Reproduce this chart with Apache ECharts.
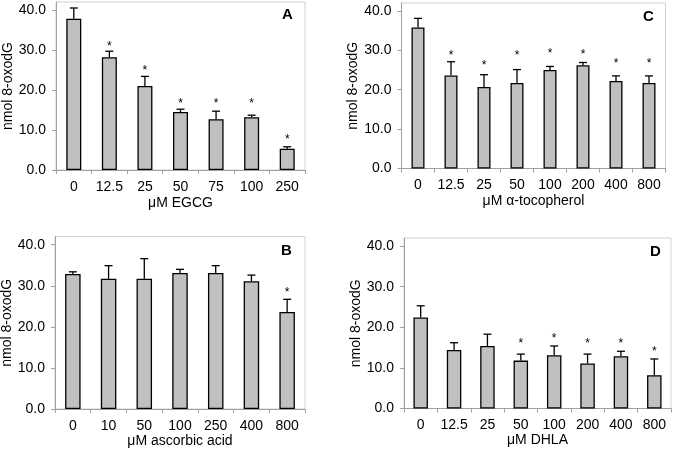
<!DOCTYPE html>
<html>
<head>
<meta charset="utf-8">
<script src="https://cdn.jsdelivr.net/npm/echarts@6/dist/echarts.min.js"></script>
<style>html,body{margin:0;padding:0;background:#fff}#c{width:675px;height:449px}</style>
</head>
<body>
<div id="c"></div>
<script>
// Panel A: EGCG
var catsA = ['0', '12.5', '25', '50', '75', '100', '250'];
var valsA = [37.8, 28.2, 21.0, 14.5, 12.7, 13.2, 5.3];
var sdA   = [2.7, 1.5, 2.4, 0.7, 2.0, 0.5, 0.5];
var sigA  = [null, 31.7, 25.7, 17.3, 17.3, 17.3, 8.4];
// Panel B: ascorbic acid
var catsB = ['0', '10', '50', '100', '250', '400', '800'];
var valsB = [32.9, 31.7, 31.7, 33.1, 33.1, 31.1, 23.6];
var sdB   = [0.5, 3.2, 4.9, 0.9, 1.8, 1.5, 3.1];
var sigB  = [null, null, null, null, null, null, 29.0];
// Panel C: alpha-tocopherol
var catsC = ['0', '12.5', '25', '50', '100', '200', '400', '800'];
var valsC = [35.8, 23.6, 20.7, 21.7, 25.0, 26.2, 22.2, 21.7];
var sdC   = [2.3, 3.5, 3.1, 3.4, 0.9, 0.7, 1.3, 1.8];
var sigC  = [null, 29.3, 26.9, 29.3, 29.9, 29.6, 27.3, 27.3];
// Panel D: DHLA
var catsD = ['0', '12.5', '25', '50', '100', '200', '400', '800'];
var valsD = [22.4, 14.4, 15.4, 11.8, 13.1, 11.1, 12.9, 8.2];
var sdD   = [2.9, 1.8, 2.9, 1.6, 2.3, 2.3, 1.2, 4.0];
var sigD  = [null, null, null, 16.8, 17.9, 16.8, 16.8, 14.8];

var yTicks = [0, 10, 20, 30, 40];
var yName = 'nmol 8-oxodG';

var FONT = "'Liberation Sans', Arial, sans-serif";
var panels = [
  {cats: catsA, vals: valsA, sd: sdA, sig: sigA, xname: '\u03bcM EGCG', letter: 'A',
   grid: {left: 56, top: 2, width: 249, height: 168}, barW: 15, letterPos: [288, 15], xGap: 26},
  {cats: catsC, vals: valsC, sd: sdC, sig: sigC, xname: '\u03bcM \u03b1-tocopherol', letter: 'C',
   grid: {left: 401.5, top: 3, width: 264, height: 165.5}, barW: 13, letterPos: [649, 17], xGap: 25.5},
  {cats: catsB, vals: valsB, sd: sdB, sig: sigB, xname: '\u03bcM ascorbic acid', letter: 'B',
   grid: {left: 55, top: 236.5, width: 250, height: 172.5}, barW: 15.5, letterPos: [287, 251], xGap: 23},
  {cats: catsD, vals: valsD, sd: sdD, sig: sigD, xname: '\u03bcM DHLA', letter: 'D',
   grid: {left: 404, top: 238, width: 267, height: 170.5}, barW: 14.5, letterPos: [656, 252], xGap: 24}
];

var grids = [], xAxes = [], yAxes = [], series = [], graphics = [];
panels.forEach(function (p, i) {
  grids.push(Object.assign({show: true, borderColor: '#d0d0d0', borderWidth: 1, backgroundColor: 'transparent',
    containLabel: false, outerBoundsMode: 'none'}, p.grid));
  xAxes.push({
    type: 'category', gridIndex: i, data: p.cats,
    name: p.xname, nameLocation: 'middle', nameGap: p.xGap,
    nameTextStyle: {fontFamily: FONT, fontSize: 14, color: '#000'},
    axisLine: {lineStyle: {color: '#a0a0a0', width: 1}},
    axisTick: {show: true, length: 4, interval: 0, lineStyle: {color: '#a0a0a0'}},
    axisLabel: {fontFamily: FONT, fontSize: 14, color: '#000', margin: 10, interval: 0},
    splitLine: {show: false}
  });
  yAxes.push({
    type: 'value', gridIndex: i, min: 0, max: 42,
    name: yName, nameLocation: 'middle', nameGap: 36,
    nameTextStyle: {fontFamily: FONT, fontSize: 14, color: '#000'},
    axisLine: {show: true, lineStyle: {color: '#a0a0a0', width: 1}},
    axisTick: {show: true, length: 4, customValues: yTicks, lineStyle: {color: '#a0a0a0'}},
    axisLabel: {fontFamily: FONT, fontSize: 14, color: '#000', margin: 10, customValues: yTicks,
      formatter: function (v) { return v.toFixed(1); }},
    splitLine: {show: false}
  });
  series.push({
    type: 'bar', xAxisIndex: i, yAxisIndex: i, data: p.vals, barWidth: p.barW,
    itemStyle: {color: '#c0c0c0', borderColor: '#000', borderWidth: 1.3},
    silent: true, animation: false
  });
  var errData = p.vals.map(function (v, k) { return [k, v, v + p.sd[k]]; });
  series.push({
    type: 'custom', xAxisIndex: i, yAxisIndex: i, data: errData, animation: false, silent: true,
    encode: {x: 0, y: [1, 2]},
    renderItem: function (params, api) {
      var x = api.value(0);
      var a = api.coord([x, api.value(1)]);
      var b = api.coord([x, api.value(2)]);
      var hw = 4;
      return {type: 'group', children: [
        {type: 'line', shape: {x1: a[0], y1: a[1], x2: b[0], y2: b[1]}, style: {stroke: '#000', lineWidth: 1.3}},
        {type: 'line', shape: {x1: b[0] - hw, y1: b[1], x2: b[0] + hw, y2: b[1]}, style: {stroke: '#000', lineWidth: 1.3}}
      ]};
    }
  });
  var sigData = [];
  p.sig.forEach(function (s, k) { if (s != null) sigData.push([k, s]); });
  series.push({
    type: 'custom', xAxisIndex: i, yAxisIndex: i, data: sigData, animation: false, silent: true,
    encode: {x: 0, y: 1},
    renderItem: function (params, api) {
      var c = api.coord([api.value(0), api.value(1)]);
      return {type: 'text', x: c[0], y: c[1] + 3,
        style: {text: '*', fontFamily: FONT, fontSize: 12, fill: '#000', align: 'center', verticalAlign: 'middle'}};
    }
  });
  graphics.push({type: 'text', left: p.letterPos[0] - 6, top: p.letterPos[1] - 8,
    style: {text: p.letter, fontFamily: FONT, fontSize: 15, fontWeight: 'bold', fill: '#000'}});
});

var chart = echarts.init(document.getElementById('c'), null, {renderer: 'canvas'});
chart.setOption({
  animation: false,
  backgroundColor: '#fff',
  grid: grids, xAxis: xAxes, yAxis: yAxes, series: series, graphic: graphics
});
</script>
</body>
</html>
